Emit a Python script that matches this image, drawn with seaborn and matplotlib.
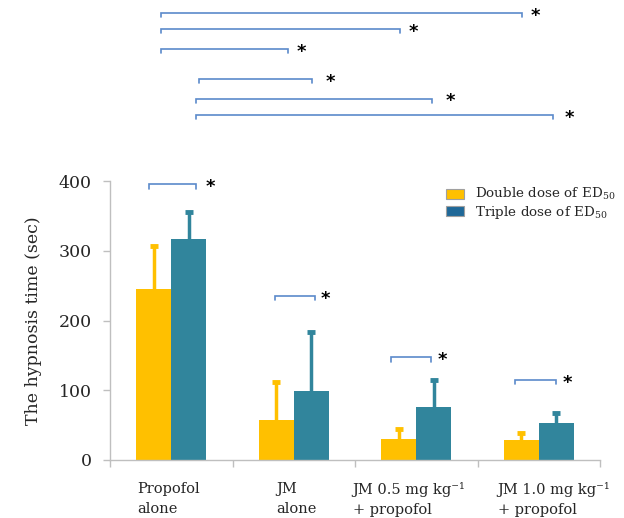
import numpy as np
import pandas as pd
import matplotlib
matplotlib.use("Agg")
import matplotlib.pyplot as plt
from matplotlib.patches import Patch
from matplotlib.transforms import blended_transform_factory
import seaborn as sns

# Hypnosis time (mean and SD) for each treatment group
groups = ["Propofol alone", "JM alone", "JM 0.5 + propofol", "JM 1.0 + propofol"]
tick_labels = [
    "Propofol\nalone",
    "JM\nalone",
    "JM 0.5 mg kg\u207b\u00b9\n+ propofol",
    "JM 1.0 mg kg\u207b\u00b9\n+ propofol",
]
dose_labels = ["Double dose of ED$_{\\mathdefault{50}}$", "Triple dose of ED$_{\\mathdefault{50}}$"]
double_mean = [245, 58, 30, 28]
double_sd = [62, 54, 14, 11]
triple_mean = [317, 99, 76, 53]
triple_sd = [38, 84, 38, 15]

bar_colors = ["#FFC000", "#31859C"]
legend_colors = ["#FFC000", "#1F6898"]
bracket_color = "#5B8ACB"

df = pd.DataFrame({
    "group": groups * 2,
    "dose": ["double"] * 4 + ["triple"] * 4,
    "time": double_mean + triple_mean,
})

sns.set_theme(style="white")
plt.rcParams["font.family"] = ["DejaVu Serif"]
plt.rcParams["mathtext.fontset"] = "dejavuserif"

fig = plt.figure(figsize=(6.24, 5.18), dpi=100)
ax = fig.add_axes([110 / 624, 1 - 460 / 518, 490 / 624, 279 / 518])

sns.barplot(data=df, x="group", y="time", hue="dose", order=groups,
            hue_order=["double", "triple"], palette=bar_colors, saturation=1,
            width=0.57, errorbar=None, linewidth=0, legend=False, ax=ax)

# one-sided SD error bars on top of each bar
for cont, sd, col in zip(ax.containers, [double_sd, triple_sd], bar_colors):
    xs = np.array([p.get_x() + p.get_width() / 2 for p in cont.patches])
    hs = np.array([p.get_height() for p in cont.patches])
    _, caps, _ = ax.errorbar(xs, hs, yerr=[np.zeros(len(sd)), sd], fmt="none",
                             ecolor=col, elinewidth=2.5, capsize=3, capthick=3.5,
                             zorder=3)
    for c in caps:
        if np.allclose(c.get_ydata(), hs):
            c.set_visible(False)

ax.set_xlim(-0.5, 3.5)
ax.set_ylim(0, 400)
ax.set_yticks([0, 100, 200, 300, 400])
ax.set_xticks([-0.5, 0.5, 1.5, 2.5, 3.5])
ax.set_xticklabels([])
ax.tick_params(axis="y", which="major", left=True, length=5, width=1,
               color="#BFBFBF", labelsize=12.5, pad=8)
ax.tick_params(axis="x", which="major", bottom=True, length=5, width=1,
               color="#BFBFBF")
for s in ["top", "right"]:
    ax.spines[s].set_visible(False)
for s in ["left", "bottom"]:
    ax.spines[s].set_color("#BFBFBF")
    ax.spines[s].set_linewidth(1)
ax.set_xlabel("")
ax.set_ylabel("The hypnosis time (sec)", fontsize=12.5, labelpad=12)

# category labels below the axis
label_x = [-0.28, 0.86, 1.48, 2.665]
trans = blended_transform_factory(ax.transData, ax.transAxes)
for lx, txt in zip(label_x, tick_labels):
    ax.text(lx, -0.08, txt, transform=trans, ha="left", va="top",
            multialignment="left", fontsize=10.5, linespacing=1.5)

# significance brackets: (x start, x end, height, star x)
brackets = [
    (-0.18, 0.20, 395, 0.32),
    (0.845, 1.17, 235, 1.26),
    (1.79, 2.12, 147, 2.21),
    (2.81, 3.14, 115, 3.23),
    (-0.08, 2.86, 641, 2.97),
    (-0.08, 1.865, 618, 1.98),
    (-0.08, 0.95, 589, 1.06),
    (0.225, 1.145, 546, 1.30),
    (0.20, 2.125, 518, 2.28),
    (0.20, 3.115, 495, 3.25),
]
drop = 6
for x0, x1, y, sx in brackets:
    ax.plot([x0, x0, x1, x1], [y - drop, y, y, y - drop], color=bracket_color,
            lw=1.2, clip_on=False, solid_joinstyle="miter")
    ax.text(sx, y - 4, "*", ha="center", va="center", fontsize=13,
            fontweight="bold", family="DejaVu Sans", color="black", clip_on=False)

handles = [Patch(facecolor=c, edgecolor="#A0A0A0", linewidth=0.8) for c in legend_colors]
fig.legend(handles, dose_labels, loc="upper left", bbox_to_anchor=(441 / 624, 1 - 181 / 518),
           frameon=False, fontsize=9.7, handlelength=1.3, handleheight=0.75,
           handletextpad=0.8, labelspacing=0.1, borderaxespad=0)

fig.savefig("out.png", dpi=100)
